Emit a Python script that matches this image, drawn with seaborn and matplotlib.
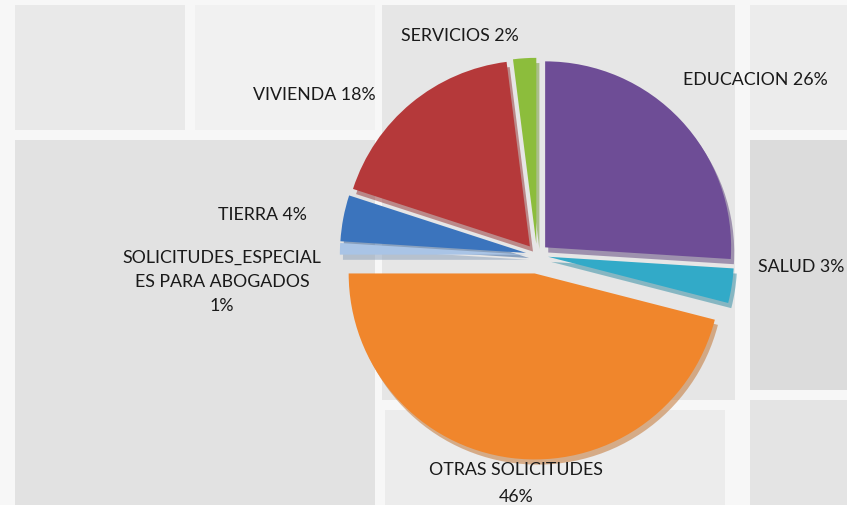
import matplotlib
matplotlib.use("Agg")
import matplotlib.pyplot as plt
from matplotlib.patches import Rectangle
import seaborn as sns

# ---- data (clockwise from 12 o'clock) ----
categories = ["EDUCACION", "SALUD", "OTRAS SOLICITUDES",
              "SOLICITUDES_ESPECIAL\nES PARA ABOGADOS", "TIERRA", "VIVIENDA", "SERVICIOS"]
values = [26, 3, 46, 1, 4, 18, 2]
label_texts = ["EDUCACION 26%", "SALUD 3%", "OTRAS SOLICITUDES\n46%",
               "SOLICITUDES_ESPECIAL\nES PARA ABOGADOS\n1%", "TIERRA 4%",
               "VIVIENDA 18%", "SERVICIOS 2%"]
colors = ["#6e4d96", "#32aac8", "#f0862c", "#a9c4e6", "#3b74bd", "#b5393a", "#8cbd3c"]
explode = [0.06, 0.06, 0.10, 0.06, 0.06, 0.06, 0.06]
# label anchor positions (in pie-radius units, relative to center)
label_pos = [(1.172, 0.941), (1.419, -0.065), (-0.113, -1.228), (-1.694, -0.145),
             (-1.478, 0.215), (-1.199, 0.860), (-0.414, 1.177)]
label_spacing = [1.3, 1.3, 1.8, 1.62, 1.3, 1.3, 1.3]

sns.set_theme(style="white")
plt.rcParams["font.family"] = ["Lato", "DejaVu Sans"]

W, H = 847, 505
fig = plt.figure(figsize=(W / 100, H / 100), dpi=100)
fig.patch.set_facecolor("#f7f7f7")

# background tiles (decorative photo collage approximation)
bg = fig.add_axes([0, 0, 1, 1], zorder=0)
bg.set_xlim(0, W)
bg.set_ylim(H, 0)
bg.axis("off")
tiles = [
    (15, 5, 170, 125, "#e9e9e9"),
    (195, 5, 180, 125, "#f1f1f1"),
    (382, 5, 353, 395, "#e6e6e6"),
    (750, 5, 97, 125, "#ececec"),
    (15, 140, 360, 365, "#e2e2e2"),
    (750, 140, 97, 250, "#dcdcdc"),
    (385, 410, 340, 95, "#ececec"),
    (750, 400, 97, 105, "#e4e4e4"),
]
for x, y, w, h, c in tiles:
    bg.add_patch(Rectangle((x, y), w, h, facecolor=c, edgecolor="none"))

ax = fig.add_axes([0, 0, 1, 1], zorder=1)
ax.patch.set_alpha(0)
cx, cy, R = 537, 255, 186
ax.axis("off")

wedges, _ = ax.pie(values, colors=colors, explode=explode, startangle=90,
                   counterclock=False, radius=1.0,
                   wedgeprops=dict(linewidth=0),
                   shadow={"ox": 0.012, "oy": -0.02, "shade": 0.2})
ax.set_xlim(-cx / R, (W - cx) / R)
ax.set_ylim(-(H - cy) / R, cy / R)
ax.set_aspect("auto")

for txt, (lx, ly), ls in zip(label_texts, label_pos, label_spacing):
    ax.text(lx, ly, txt, ha="center", va="center", fontsize=12.8,
            color="#1a1a1a", linespacing=ls)

fig.savefig("out.png", dpi=100)
